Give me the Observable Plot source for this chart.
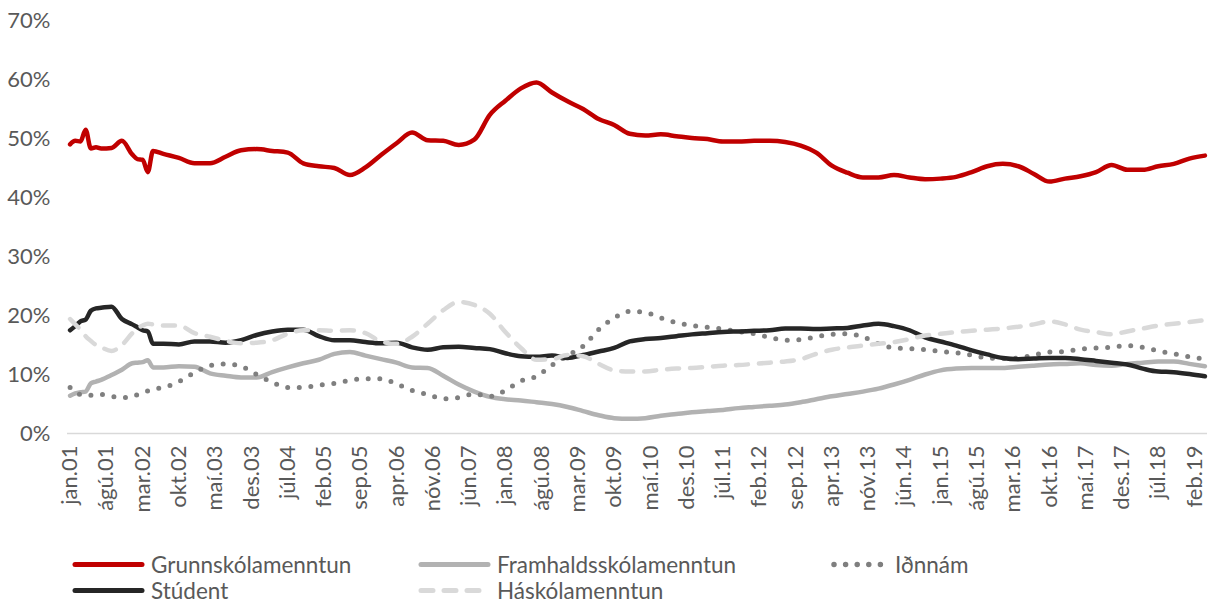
<!DOCTYPE html>
<html>
<head>
<meta charset="utf-8">
<script src="https://cdn.jsdelivr.net/npm/d3@7"></script>
<script src="https://cdn.jsdelivr.net/npm/@observablehq/plot@0.6"></script>
<style>
  html, body { margin: 0; padding: 0; background: #fff; }
  #wrap { width: 1211px; height: 603px; position: relative; font-family: Lato, "Open Sans", sans-serif; color: #595959; }
  #legend { position: relative; width: 1211px; height: 68px; }
  .item { position: absolute; height: 23px; line-height: 23px; display: flex; align-items: center; font-size: 22.5px; white-space: nowrap; }
  .item svg { display: block; }
</style>
</head>
<body>
<div id="wrap">
  <div id="chart"></div>
  <div id="legend"></div>
</div>
<script>
// Month index (0 = jan.01) of each sampled point
const gridMonths = [0,1,2,3,4,5,6,8,10,12,13,14,15,16,18,21,24,27,30,33,36,39,42,45,48,51,54,57,60,63,66,69,72,75,78,81,84,87,90,93,96,99,102,105,108,111,114,117,120,123,126,129,132,135,138,141,144,147,150,153,156,159,162,165,168,171,174,177,180,183,186,189,192,195,198,201,204,207,210,213,216,219];

const grunnskoli = [49.0,49.6,49.5,51.5,48.3,48.5,48.3,48.4,49.6,47.3,46.5,46.4,44.3,47.9,47.4,46.7,45.8,45.8,46.9,48.0,48.2,47.9,47.6,45.8,45.3,45.0,43.8,45.1,47.2,49.2,51.0,49.7,49.6,48.9,49.8,54.0,56.4,58.5,59.5,57.8,56.3,55.0,53.3,52.3,50.8,50.5,50.7,50.4,50.1,49.9,49.5,49.5,49.6,49.6,49.4,48.8,47.6,45.4,44.2,43.4,43.4,43.8,43.4,43.1,43.2,43.5,44.3,45.3,45.7,45.3,44.0,42.7,43.2,43.6,44.3,45.5,44.7,44.7,45.3,45.7,46.6,47.1];

const framhald = [6.4,6.8,7.0,7.1,8.5,8.8,9.1,9.9,10.8,11.9,12.0,12.1,12.4,11.2,11.2,11.4,11.3,10.2,9.8,9.5,9.5,10.4,11.2,11.9,12.5,13.5,13.8,13.2,12.6,12.0,11.2,11.1,9.8,8.3,7.1,6.2,5.8,5.6,5.3,5.0,4.5,3.8,3.1,2.6,2.5,2.6,3.0,3.3,3.6,3.8,4.0,4.3,4.5,4.7,4.9,5.3,5.8,6.3,6.7,7.1,7.6,8.3,9.1,10.0,10.7,11.0,11.1,11.1,11.1,11.3,11.5,11.7,11.8,11.9,11.6,11.5,11.8,12.0,12.2,12.2,11.8,11.4];

const idnnam = [7.8,7.0,6.6,6.5,6.5,6.5,6.6,6.3,6.1,6.2,6.6,6.9,7.2,7.5,7.8,8.8,10.3,11.5,11.8,11.4,10.0,8.7,7.8,7.8,8.2,8.5,9.0,9.3,9.3,8.4,7.3,6.6,5.9,6.1,6.7,6.3,7.3,8.9,9.7,11.6,13.2,14.8,17.6,19.6,20.7,20.5,19.6,18.8,18.3,18.0,17.7,17.3,16.9,16.3,15.8,15.9,16.4,16.8,16.9,16.4,15.2,14.5,14.4,14.2,13.9,13.7,13.3,12.8,12.7,12.8,13.3,13.8,13.9,14.3,14.5,14.6,14.9,14.6,14.0,13.5,13.0,12.6];

const studentar = [17.5,18.2,19.0,19.3,20.8,21.2,21.3,21.5,19.4,18.5,18.0,17.5,17.3,15.2,15.2,15.1,15.6,15.6,15.4,15.8,16.7,17.3,17.6,17.6,16.5,15.8,15.8,15.5,15.3,15.4,14.6,14.2,14.6,14.7,14.5,14.3,13.6,13.1,13.0,13.2,12.8,13.3,13.9,14.5,15.6,16.0,16.2,16.5,16.8,17.0,17.2,17.3,17.4,17.5,17.8,17.8,17.7,17.8,17.9,18.3,18.6,18.2,17.5,16.3,15.6,14.9,14.1,13.4,12.8,12.6,12.7,12.8,12.8,12.6,12.3,12.0,11.7,11.0,10.5,10.4,10.1,9.7];

const haskoli = [19.4,18.5,17.6,16.5,15.7,15.0,14.6,14.0,15.0,17.0,17.8,18.3,18.6,18.5,18.3,18.3,17.0,16.4,15.7,15.3,15.4,15.8,16.9,17.5,17.5,17.4,17.5,17.0,15.6,15.2,16.4,18.6,20.9,22.3,21.8,20.3,17.2,14.5,12.5,12.6,13.3,13.1,11.8,10.7,10.5,10.5,10.8,11.0,11.1,11.3,11.5,11.6,11.8,12.0,12.2,12.6,13.5,14.2,14.6,14.9,15.2,15.5,16.0,16.6,16.9,17.2,17.4,17.6,17.8,18.1,18.5,19.0,18.5,17.6,17.2,16.8,17.3,17.8,18.3,18.6,18.9,19.2];

const seriesNames = ["Grunnskólamenntun", "Framhaldsskólamenntun", "Iðnnám", "Stúdent", "Háskólamenntun"];
const seriesValues = [grunnskoli, framhald, idnnam, studentar, haskoli];

const yTicks = [0, 10, 20, 30, 40, 50, 60, 70];
const xTickLabels = ["jan.01","ágú.01","mar.02","okt.02","maí.03","des.03","júl.04","feb.05","sep.05","apr.06","nóv.06","jún.07","jan.08","ágú.08","mar.09","okt.09","maí.10","des.10","júl.11","feb.12","sep.12","apr.13","nóv.13","jún.14","jan.15","ágú.15","mar.16","okt.16","maí.17","des.17","júl.18","feb.19"];
const xTickStep = 7;
const xTickPos = xTickLabels.map((_, i) => i * xTickStep);
const monthCount = 220;

const styles = {
  "Grunnskólamenntun":     {stroke: "#c00000", width: 4.5, dash: null, cap: "round"},
  "Framhaldsskólamenntun": {stroke: "#b2b2b2", width: 4.5, dash: null, cap: "round"},
  "Iðnnám":                {stroke: "#7f7f7f", width: 5,   dash: "0 11.6", cap: "round"},
  "Stúdent":               {stroke: "#262626", width: 4.5, dash: null, cap: "round"},
  "Háskólamenntun":        {stroke: "#d9d9d9", width: 4.5, dash: "12 11", cap: "round"}
};

const table = seriesNames.map((name, s) => gridMonths.map((m, k) => ({series: name, month: m, value: seriesValues[s][k]})));

const lineMarks = table.map(rows => {
  const st = styles[rows[0].series];
  return Plot.line(rows, {
    x: "month", y: "value", stroke: st.stroke, strokeWidth: st.width,
    strokeDasharray: st.dash, strokeLinecap: st.cap, strokeLinejoin: "round",
    curve: "monotone-x"
  });
});

const chart = Plot.plot({
  width: 1211, height: 535,
  marginLeft: 67, marginRight: 4, marginTop: 20, marginBottom: 102,
  style: {fontFamily: "Lato, 'Open Sans', sans-serif", fontSize: "22px", color: "#595959", background: "white", overflow: "visible"},
  x: {domain: [-0.5, monthCount - 0.5], axis: null},
  y: {domain: [0, 70], axis: null},
  marks: [
    Plot.axisY({ticks: yTicks, tickFormat: d => d + "%", tickSize: 0, tickPadding: 17, fill: "#595959", fontSize: 22, label: null}),
    Plot.axisX({ticks: xTickPos, tickFormat: d => xTickLabels[Math.round(d / xTickStep)], tickRotate: -90, tickSize: 0, tickPadding: 12, fill: "#595959", fontSize: 22, label: null}),
    Plot.ruleY([0], {stroke: "#d9d9d9", strokeWidth: 1.5}),
    ...lineMarks
  ]
});
document.getElementById("chart").appendChild(chart);

// Legend
const legendPos = {
  "Grunnskólamenntun":     {x: 72,  y: 18, sw: 70},
  "Framhaldsskólamenntun": {x: 418, y: 18, sw: 70},
  "Iðnnám":                {x: 831, y: 18, sw: 55},
  "Stúdent":               {x: 72,  y: 44, sw: 70},
  "Háskólamenntun":        {x: 418, y: 44, sw: 70}
};
const legend = document.getElementById("legend");
seriesNames.forEach(name => {
  const st = styles[name], p = legendPos[name];
  const div = document.createElement("div");
  div.className = "item";
  div.style.left = p.x + "px";
  div.style.top = p.y + "px";
  const w = p.sw;
  div.innerHTML = `<svg width="${w + 6}" height="23"><line x1="3" y1="11.5" x2="${w}" y2="11.5" stroke="${st.stroke}" stroke-width="${st.width + 0.5}" stroke-linecap="${st.cap}" ${st.dash ? `stroke-dasharray="${st.dash}"` : ""}/></svg><span style="margin-left:3px">${name}</span>`;
  legend.appendChild(div);
});
</script>
</body>
</html>
